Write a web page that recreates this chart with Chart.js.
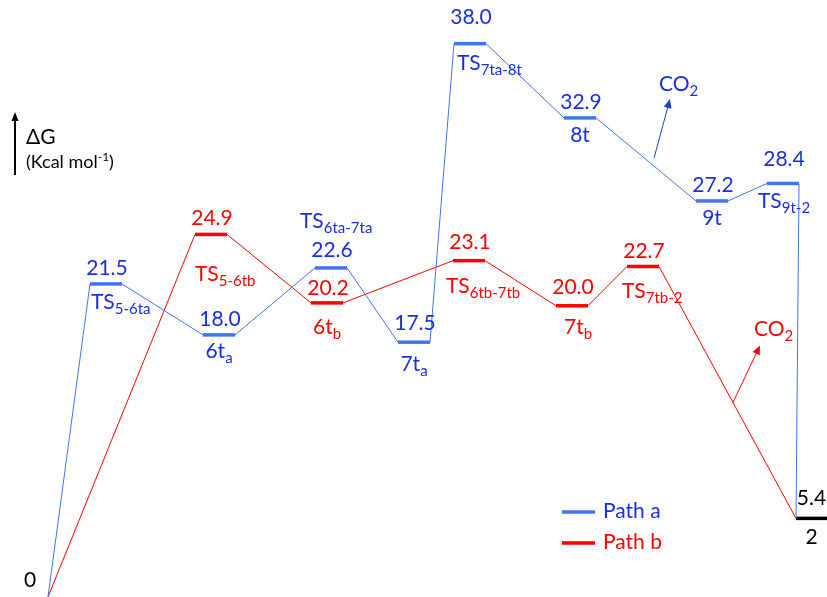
<!DOCTYPE html>
<html>
<head>
<meta charset="utf-8">
<script src="https://cdn.jsdelivr.net/npm/chart.js@4.4.0/dist/chart.umd.min.js"></script>
<style>
  body { margin: 0; background: #fff; }
  #wrap { width: 827px; height: 597px; }
</style>
</head>
<body>
<div id="wrap"><canvas id="chart"></canvas></div>
<script>
// path a (blue): name [main, subscript], free energy in kcal/mol, reaction coordinate
const namesA = [["TS", "5-6ta"], ["6t", "a"], ["TS", "6ta-7ta"], ["7t", "a"], ["TS", "7ta-8t"], ["8t", ""], ["9t", ""], ["TS", "9t-2"]];
const energyA = [21.5, 18.0, 22.6, 17.5, 38.0, 32.9, 27.2, 28.4];
const coordA = [0.90, 2.03, 3.15, 3.98, 4.54, 5.64, 6.96, 7.67];

// path b (red)
const namesB = [["TS", "5-6tb"], ["6t", "b"], ["TS", "6tb-7tb"], ["7t", "b"], ["TS", "7tb-2"]];
const energyB = [24.9, 20.2, 23.1, 20.0, 22.7];
const coordB = [1.95, 3.11, 4.53, 5.56, 6.27];

// shared start and product 2
const startCoord = 0.48, startEnergy = 0;
const productCoord = 7.96, productEnergy = 5.4, productName = "2";

const barW = 0.32; // width of an energy level in reaction coordinate units

// label placement per level: [value dy, name align, name dx, name dy] (px, from bar)
const layoutA = [[-9, "l", 1, 25], [-9, "c", 0, 23], [-11, "l", -15, -40], [-12, "c", 0, 29],
                 [-20, "l", 3, 26], [-9, "c", 0, 24], [-9, "c", 0, 24], [-17, "l", -9, 25]];
const layoutB = [[-9, "l", 0, 47], [-8, "c", 0, 31], [-12, "l", -7, 32], [-12, "c", 6, 28], [-8, "l", -5, 32]];

const blueLine = "#4273f0", blueText = "#1a30e0";
const redLine = "#ff0000", redText = "#ff0000";
const bigFont = "21px Lato", subFont = "15px Lato";

// build points: start, then left/right edge of each level, then product left edge
function pathPoints(coords, energies) {
  const pts = [{ x: startCoord, y: startEnergy }];
  coords.forEach((c, i) => {
    pts.push({ x: c, y: energies[i] });
    pts.push({ x: c + barW, y: energies[i] });
  });
  pts.push({ x: productCoord, y: productEnergy });
  return pts;
}

const isBar = (ctx) => ctx.p0DataIndex % 2 === 1;

function drawName(ctx, main, sub, x, y, align, color) {
  ctx.fillStyle = color;
  ctx.font = bigFont;
  const w1 = ctx.measureText(main).width;
  ctx.font = subFont;
  const w2 = sub ? ctx.measureText(sub).width : 0;
  let left = align === "c" ? x - (w1 + w2) / 2 : x;
  ctx.textAlign = "left";
  ctx.font = bigFont;
  ctx.fillText(main, left, y);
  if (sub) {
    ctx.font = subFont;
    ctx.fillText(sub, left + w1, y + 5);
  }
}

function arrow(ctx, x0, y0, dx, dy, color) {
  const x1 = x0 + dx, y1 = y0 + dy;
  const a = Math.atan2(dy, dx);
  ctx.strokeStyle = color;
  ctx.fillStyle = color;
  ctx.lineWidth = 1;
  ctx.beginPath();
  ctx.moveTo(x0, y0);
  ctx.lineTo(x1 - 6 * Math.cos(a), y1 - 6 * Math.sin(a));
  ctx.stroke();
  ctx.beginPath();
  ctx.moveTo(x1, y1);
  ctx.lineTo(x1 - 9 * Math.cos(a) + 4 * Math.sin(a), y1 - 9 * Math.sin(a) - 4 * Math.cos(a));
  ctx.lineTo(x1 - 9 * Math.cos(a) - 4 * Math.sin(a), y1 - 9 * Math.sin(a) + 4 * Math.cos(a));
  ctx.closePath();
  ctx.fill();
}

const labelPlugin = {
  id: "labels",
  afterDatasetsDraw(chart) {
    const { ctx, scales: { x, y } } = chart;
    ctx.save();
    ctx.textBaseline = "alphabetic";

    const drawLevels = (coords, energies, names, layout, color) => {
      coords.forEach((c, i) => {
        const xl = x.getPixelForValue(c);
        const xc = x.getPixelForValue(c + barW / 2);
        const yb = y.getPixelForValue(energies[i]);
        const [vdy, al, ndx, ndy] = layout[i];
        ctx.fillStyle = color;
        ctx.font = bigFont;
        ctx.textAlign = "center";
        ctx.fillText(energies[i].toFixed(1), xc + 1, yb + vdy);
        drawName(ctx, names[i][0], names[i][1], al === "c" ? xc + ndx : xl + ndx, yb + ndy, al, color);
      });
    };
    drawLevels(coordA, energyA, namesA, layoutA, blueText);
    drawLevels(coordB, energyB, namesB, layoutB, redText);

    // product and start
    const pc = x.getPixelForValue(productCoord + barW / 2 - 0.005);
    const py = y.getPixelForValue(productEnergy);
    ctx.fillStyle = "#000";
    ctx.font = bigFont;
    ctx.textAlign = "center";
    ctx.fillText(productEnergy.toFixed(1), pc, py - 13);
    ctx.fillText(productName, pc, py + 26);
    ctx.fillText(String(startEnergy), x.getPixelForValue(startCoord) - 18, y.getPixelForValue(startEnergy) - 10);

    // CO2 release arrows, based on the connector they leave from
    const along = (x0, y0, x1, y1, t) => [x0 + (x1 - x0) * t, y0 + (y1 - y0) * t];
    const [bx, by] = along(x.getPixelForValue(coordA[5] + barW), y.getPixelForValue(energyA[5]),
                           x.getPixelForValue(coordA[6]), y.getPixelForValue(energyA[6]), 0.58);
    arrow(ctx, bx, by - 8, 16, -59, "#1f44cc");
    drawName(ctx, "CO", "2", bx + 5, by - 75, "l", blueText);
    const [rx, ry] = along(x.getPixelForValue(coordB[4] + barW), y.getPixelForValue(energyB[4]),
                           x.getPixelForValue(productCoord), y.getPixelForValue(productEnergy), 0.54);
    arrow(ctx, rx, ry, 27, -57, redLine);
    drawName(ctx, "CO", "2", rx + 21, ry - 66, "l", redText);

    // energy axis arrow and title
    ctx.strokeStyle = "#000";
    ctx.fillStyle = "#000";
    ctx.lineWidth = 2;
    ctx.beginPath();
    ctx.moveTo(15, 175);
    ctx.lineTo(15, 120);
    ctx.stroke();
    ctx.beginPath();
    ctx.moveTo(15, 112);
    ctx.lineTo(11.5, 121);
    ctx.lineTo(18.5, 121);
    ctx.closePath();
    ctx.fill();
    ctx.textAlign = "left";
    ctx.font = "21px Lato";
    ctx.fillText("\u0394G", 26, 144);
    ctx.font = "18px Lato";
    let tx = 26;
    ctx.fillText("(Kcal mol", tx, 168);
    tx += ctx.measureText("(Kcal mol").width;
    ctx.font = "12px Lato";
    ctx.fillText("-1", tx, 161);
    tx += ctx.measureText("-1").width;
    ctx.font = "18px Lato";
    ctx.fillText(")", tx, 168);

    // legend
    chart.data.datasets.slice(0, 2).forEach((ds, i) => {
      const ly = 512 + i * 31;
      ctx.strokeStyle = ds.borderColor;
      ctx.lineWidth = 3.5;
      ctx.beginPath();
      ctx.moveTo(562, ly);
      ctx.lineTo(595, ly);
      ctx.stroke();
      ctx.fillStyle = i === 0 ? blueText : redText;
      ctx.font = bigFont;
      ctx.fillText(ds.label, 603, ly + 6);
    });
    ctx.restore();
  }
};

new Chart(document.getElementById("chart"), {
  type: "scatter",
  data: {
    datasets: [
      {
        label: "Path a",
        data: pathPoints(coordA, energyA),
        showLine: true,
        borderColor: blueLine,
        borderWidth: 1,
        pointRadius: 0,
        segment: { borderWidth: (ctx) => (isBar(ctx) ? 3.5 : 1) },
      },
      {
        label: "Path b",
        data: pathPoints(coordB, energyB),
        showLine: true,
        borderColor: redLine,
        borderWidth: 1,
        pointRadius: 0,
        segment: { borderWidth: (ctx) => (isBar(ctx) ? 3.5 : 1) },
      },
      {
        label: "2",
        data: [{ x: productCoord, y: productEnergy }, { x: productCoord + barW, y: productEnergy }],
        showLine: true,
        borderColor: "#000",
        borderWidth: 3.5,
        pointRadius: 0,
      },
    ],
  },
  options: {
    animation: false,
    maintainAspectRatio: false,
    responsive: true,
    layout: { padding: 0 },
    plugins: { legend: { display: false }, tooltip: { enabled: false } },
    scales: {
      x: { type: "linear", min: 0, max: 8.27, display: false },
      y: { type: "linear", min: 0, max: 41, display: false },
    },
  },
  plugins: [labelPlugin],
});
</script>
</body>
</html>
